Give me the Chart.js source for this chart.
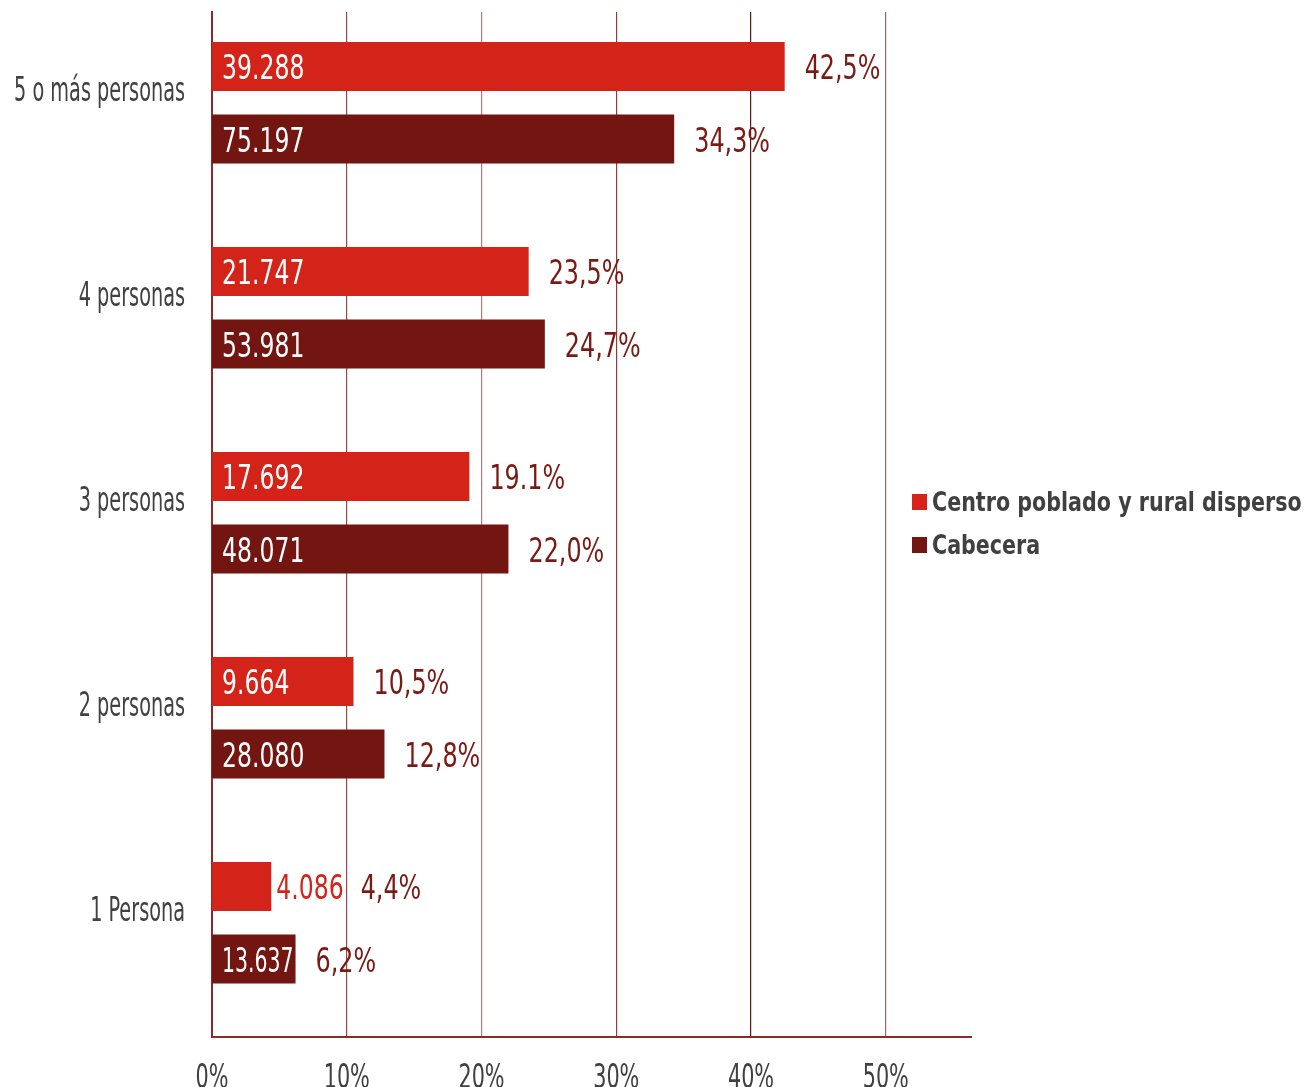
<!DOCTYPE html>
<html>
<head>
<meta charset="utf-8">
<script src="https://cdn.jsdelivr.net/npm/chart.js@4/dist/chart.umd.min.js"></script>
<style>
  html, body { margin:0; padding:0; background:#fff; }
  #wrap { position:relative; width:1304px; height:1087px; overflow:hidden; }
  #legend { position:absolute; left:912px; top:480px; font-family:'DejaVu Sans Condensed','DejaVu Sans',sans-serif; font-weight:bold; font-size:27px; color:#404040; }
  #legend div { height:43px; line-height:43px; white-space:nowrap; }
  #legend span.box { display:inline-block; width:15px; height:16px; margin-right:5px; vertical-align:middle; position:relative; top:-2px; }
  #legend span.txt { display:inline-block; transform:scaleX(0.85); transform-origin:left center; }
</style>
</head>
<body>
<div id="wrap">
  <canvas id="chart" width="1304" height="1087"></canvas>
  <div id="legend"></div>
</div>
<script>
let categories=['5 o más personas','4 personas','3 personas','2 personas','1 Persona'];
let rural_pct=[42.5,23.5,19.1,10.5,4.4];
let cabecera_pct=[34.3,24.7,22.0,12.8,6.2];
let rural_count=['39.288','21.747','17.692','9.664','4.086'];
let cabecera_count=['75.197','53.981','48.071','28.080','13.637'];
let rural_label=['42,5%','23,5%','19.1%','10,5%','4,4%'];
let cabecera_label=['34,3%','24,7%','22,0%','12,8%','6,2%'];
let x_ticks=[0,10,20,30,40,50];

const FONT="'DejaVu Sans Condensed','DejaVu Sans',sans-serif";
const RED='#d42419';
const DARK='#731611';
const GREY='#404040';

function points(vals){
    let out=[];
    for(let i=0;i<vals.length;i++){
        out.push({x:vals[i],y:i});
    }
    return out;
}

// narrow text: the original uses a condensed face, so squeeze horizontally
function narrowText(ctx,txt,x,y,sx,align){
    ctx.save();
    ctx.translate(x,y);
    ctx.scale(sx,1);
    ctx.textAlign=align||'left';
    ctx.fillText(txt,0,0);
    ctx.restore();
}

const gridColors={10:'#9c4545',20:'#b57a7a',30:'#983838',40:'#5a1414',50:'#aa6464'};

const barLabels={
    id:'barLabels',
    afterDatasetsDraw(chart){
        const ctx=chart.ctx;
        const counts=[rural_count,cabecera_count];
        const pcts=[rural_label,cabecera_label];
        const colors=[RED,DARK];
        ctx.save();
        ctx.font='34px '+FONT;
        ctx.textBaseline='alphabetic';
        chart.data.datasets.forEach((ds,d)=>{
            const meta=chart.getDatasetMeta(d);
            meta.data.forEach((bar,i)=>{
                const txt=counts[d][i];
                const raw=ctx.measureText(txt).width;
                const w=raw*0.77;
                const bw=bar.x-bar.base;
                const base=bar.y+12.5;
                let end=bar.x;
                if(bw>75){
                    // squeeze a bit more if it would run past the bar end
                    const sx=Math.min(0.77,(bw-12)/raw);
                    ctx.fillStyle='#ffffff';
                    narrowText(ctx,txt,bar.base+10,base,sx);
                }else{
                    ctx.fillStyle=colors[d];
                    narrowText(ctx,txt,bar.x+5,base,0.77);
                    end=bar.x+5+w-3;
                }
                ctx.fillStyle='#7a1a14';
                narrowText(ctx,pcts[d][i],end+20,base,0.78);
            });
        });
        ctx.restore();
    }
};

const axisLabels={
    id:'axisLabels',
    afterDraw(chart){
        const ctx=chart.ctx;
        const xs=chart.scales.x, ys=chart.scales.y;
        ctx.save();
        ctx.fillStyle=GREY;
        ctx.textBaseline='alphabetic';
        ctx.font='34px '+FONT;
        categories.forEach((c,i)=>{
            narrowText(ctx,c,185,ys.getPixelForValue(i)-2,0.63,'right');
        });
        ctx.font='33px '+FONT;
        x_ticks.forEach(v=>{
            narrowText(ctx,v+'%',xs.getPixelForValue(v),1088,0.7,'center');
        });
        ctx.restore();
    }
};

const chart=new Chart(document.getElementById('chart').getContext('2d'),{
    type:'bar',
    data:{
        datasets:[{
            label:'Centro poblado y rural disperso',
            data:points(rural_pct),
            backgroundColor:RED,
            categoryPercentage:0.707,
            barPercentage:0.676
        },{
            label:'Cabecera',
            data:points(cabecera_pct),
            backgroundColor:DARK,
            categoryPercentage:0.707,
            barPercentage:0.676
        }]
    },
    options:{
        indexAxis:'y',
        responsive:false,
        animation:false,
        layout:{padding:{top:12,right:332,bottom:0,left:0}},
        plugins:{
            legend:{display:false},
            tooltip:{enabled:false}
        },
        scales:{
            x:{
                type:'linear',
                min:0,
                max:56.4,
                afterBuildTicks:(scale)=>{scale.ticks=x_ticks.map(v=>({value:v}));},
                afterFit:(scale)=>{scale.height=50;scale.paddingLeft=0;scale.paddingRight=0;},
                grid:{
                    drawTicks:false,
                    lineWidth:(c)=>c.tick && c.tick.value>0 ? 1.2 : 0,
                    color:(c)=>c.tick ? (gridColors[c.tick.value]||'#9c4545') : '#9c4545'
                },
                border:{display:true,color:'#8b2a2a',width:2},
                ticks:{display:false}
            },
            y:{
                type:'linear',
                reverse:true,
                offset:false,
                min:-0.443,
                max:4.557,
                afterBuildTicks:(scale)=>{scale.ticks=categories.map((c,i)=>({value:i}));},
                afterFit:(scale)=>{scale.width=212;scale.paddingTop=0;scale.paddingBottom=0;},
                grid:{display:false,drawTicks:false},
                border:{display:true,color:'#8b2a2a',width:2},
                ticks:{display:false}
            }
        }
    },
    plugins:[barLabels,axisLabels]
});

const legend=document.getElementById('legend');
chart.data.datasets.forEach(ds=>{
    const row=document.createElement('div');
    row.innerHTML='<span class="box" style="background:'+ds.backgroundColor+'"></span><span class="txt">'+ds.label+'</span>';
    legend.appendChild(row);
});
</script>
</body>
</html>
